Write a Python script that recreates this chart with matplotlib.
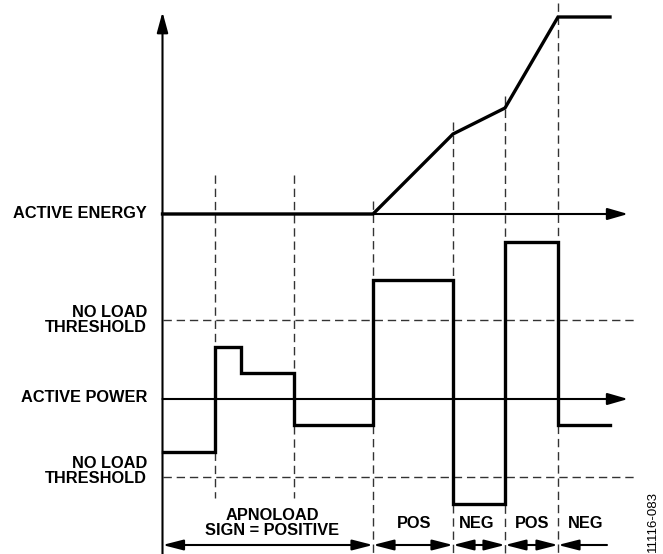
import matplotlib.pyplot as plt

plt.rcParams['font.family'] = ['Liberation Sans', 'DejaVu Sans']

# Event times (pixel-like x units) and vertical levels (y grows downward)
axis_x = 162.5
event_x = [215, 294, 373, 453, 505, 558]
dash_top = [175, 175, 201, 122, 96, 3]
dash_bottom = [498, 498, 554, 554, 554, 554]

# Active energy trace
energy_x = [162.5, 373, 453, 505, 558, 610]
energy_y = [214, 214, 134, 108, 17, 17]

# Active power trace (step levels)
power_x = [162.5, 215, 241, 294, 373, 453, 505, 558, 610]
power_lvl = [452, 347, 373, 425, 280, 504, 242, 425, 425]

energy_axis_y = 214
power_axis_y = 399
threshold_y = [320, 477]

# Left labels
left_labels = ['ACTIVE ENERGY', 'NO LOAD\nTHRESHOLD', 'ACTIVE POWER', 'NO LOAD\nTHRESHOLD']
left_label_y = [214, 320, 397, 471]

# Bottom regions
region_edges = [162.5, 373, 453, 505, 558, 607]
region_labels = ['APNOLOAD\nSIGN = POSITIVE', 'POS', 'NEG', 'POS', 'NEG']
region_label_x = [272, 414, 477, 532, 586]

fig = plt.figure(figsize=(6.63, 5.54), dpi=100)
ax = fig.add_axes([0, 0, 1, 1])
ax.set_xlim(0, 663)
ax.set_ylim(554, 0)
ax.axis('off')

head = dict(color='k', lw=1.5, shrinkA=0, shrinkB=0, mutation_scale=10)

# vertical axis
ax.annotate('', xy=(axis_x, 12), xytext=(axis_x, 560),
            arrowprops=dict(arrowstyle='-|>,head_length=1.25,head_width=0.34', **head))
# horizontal axes
for yy in [energy_axis_y, power_axis_y]:
    ax.annotate('', xy=(628, yy), xytext=(axis_x, yy),
                arrowprops=dict(arrowstyle='-|>,head_length=1.25,head_width=0.36', **head))

# threshold dashed lines
for yy in threshold_y:
    ax.plot([axis_x, 636], [yy, yy], color='#333333', lw=1.0, linestyle=(0, (6, 3.5)))

# event dashed lines
for x, t, b in zip(event_x, dash_top, dash_bottom):
    ax.plot([x, x], [t, b], color='#333333', lw=1.0, linestyle=(0, (6, 3.5)))

# traces
ax.plot(energy_x, energy_y, color='k', lw=2.4, solid_joinstyle='miter')
ax.step(power_x, power_lvl, where='post', color='k', lw=2.4, solid_joinstyle='miter')

# left labels
for lab, yy in zip(left_labels, left_label_y):
    ax.text(147, yy, lab, ha='right', va='center', fontsize=11.8,
            fontweight='bold', linespacing=0.95)

# bottom arrows
for i in range(len(region_edges) - 1):
    style = '<|-|>,head_length=1.25,head_width=0.32'
    if i == len(region_edges) - 2:
        style = '<|-,head_length=1.25,head_width=0.32'
    ax.annotate('', xy=(region_edges[i + 1], 545), xytext=(region_edges[i], 545),
                arrowprops=dict(arrowstyle=style, **head))

for lab, xx in zip(region_labels, region_label_x):
    ax.text(xx, 523, lab, ha='center', va='center', fontsize=11.8,
            fontweight='bold', linespacing=0.95)

ax.text(653, 552, '11116-083', rotation=90, ha='center', va='bottom', fontsize=9.5)

fig.savefig('out.png', dpi=100)
